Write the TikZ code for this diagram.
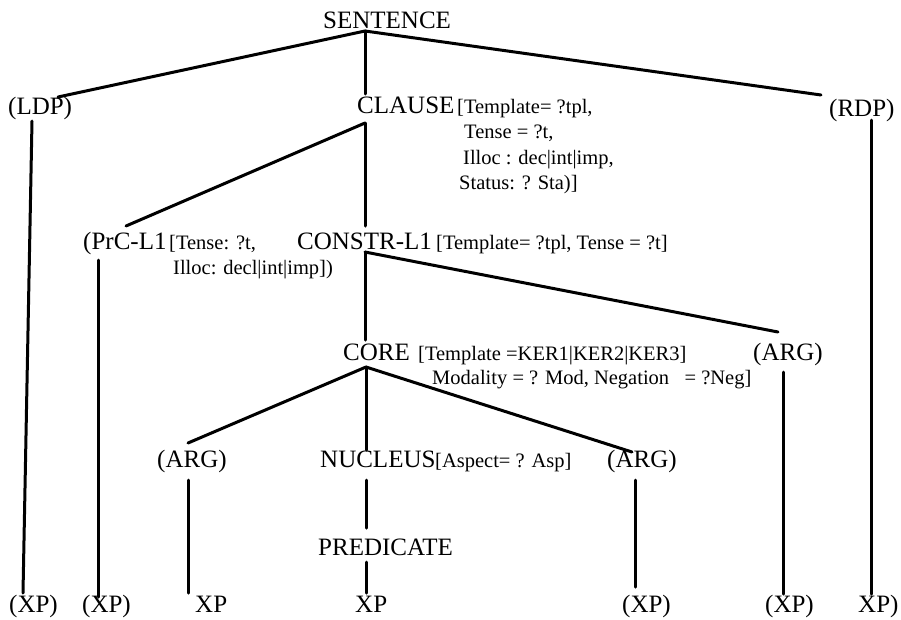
\documentclass[tikz,border=0pt]{standalone}
\usepackage{fontspec}
\setmainfont{Liberation Serif}
\begin{document}
\begin{tikzpicture}[x=1pt,y=-1pt,
  lbl/.style={anchor=base west,inner sep=0pt,font=\fontsize{25}{30}\selectfont},
  feat/.style={anchor=base west,inner sep=0pt,font=\fontsize{20.5}{25}\selectfont},
  branch/.style={line width=3pt,line cap=round,black}]
\useasboundingbox (0,0) rectangle (901,619);

% ---- category labels ----
\node[lbl] (sentence) at (323,28) {SENTENCE};
\node[lbl] (ldp) at (8,114) {(LDP)};
\node[lbl] (rdp) at (829,116) {(RDP)};
\node[lbl] (clause) at (357,113) {CLAUSE};
\node[lbl] (prc) at (83,249) {(PrC-L1};
\node[lbl] (constr) at (297,249) {CONSTR-L1};
\node[lbl] (core) at (343,360) {CORE};
\node[lbl] (argR) at (753,360) {(ARG)};
\node[lbl] (argL) at (157,467) {(ARG)};
\node[lbl] (nucleus) at (320,467) {NUCLEUS};
\node[lbl] (argM) at (607,467) {(ARG)};
\node[lbl] (predicate) at (318,555) {PREDICATE};
\node[lbl] (xp1) at (9,612) {(XP)};
\node[lbl] (xp2) at (82,612) {(XP)};
\node[lbl] (xp3) at (195,612) {XP};
\node[lbl] (xp4) at (355,612) {XP};
\node[lbl] (xp5) at (622,612) {(XP)};
\node[lbl] (xp6) at (765,612) {(XP)};
\node[lbl] (xp7) at (858,612) {XP)};

% ---- feature annotations ----
\node[feat] (clauseF1) at (457,113) {[Template= ?tpl,};
\node[feat] (clauseF2) at (464,138) {Tense = ?t,};
\node[feat] (clauseF3) at (463,164) {Illoc : dec|int|imp,};
\node[feat] (clauseF4) at (459,189) {Status: ? Sta)]};
\node[feat] (prcF1) at (169,249) {[Tense: ?t,};
\node[feat] (prcF2) at (173,274) {Illoc: decl|int|imp])};
\node[feat] (constrF) at (436,249) {[Template= ?tpl, Tense = ?t]};
\node[feat] (coreF1) at (418,360) {[Template =KER1|KER2|KER3]};
\node[feat] (coreF2) at (432,384) {Modality = ? Mod, Negation\ \ \ = ?Neg]};
\node[feat] (nucleusF) at (435,467) {[Aspect= ? Asp]};

% ---- branching points and branch ends ----
\coordinate (sentence-j) at (365,31);
\coordinate (ldp-t) at (58,97);
\coordinate (rdp-t) at (821,95);
\coordinate (clause-t) at (365,94);
\coordinate (clause-j) at (365,123);
\coordinate (ldp-b) at (32,121);
\coordinate (rdp-b) at (871,120);
\coordinate (prc-t) at (126,226);
\coordinate (constr-t) at (365,226);
\coordinate (prc-b) at (98,260);
\coordinate (constr-j) at (365,252);
\coordinate (core-t) at (365,340);
\coordinate (argR-t) at (778,332);
\coordinate (argR-b) at (783,372);
\coordinate (core-j) at (366,367);
\coordinate (argL-t) at (188,443);
\coordinate (nucleus-t) at (366,450);
\coordinate (argM-t) at (632,452);
\coordinate (argL-b) at (188,480);
\coordinate (nucleus-b) at (366,480);
\coordinate (argM-b) at (635,480);
\coordinate (predicate-t) at (366,528);
\coordinate (predicate-b) at (366,562);
\coordinate (xp1-t) at (23,593);
\coordinate (xp2-t) at (98,597);
\coordinate (xp3-t) at (188,593);
\coordinate (xp4-t) at (366,593);
\coordinate (xp5-t) at (635,587);
\coordinate (xp6-t) at (783,594);
\coordinate (xp7-t) at (871,594);

% ---- branches ----
\draw[branch] (sentence-j) -- (ldp-t);
\draw[branch] (sentence-j) -- (clause-t);
\draw[branch] (sentence-j) -- (rdp-t);
\draw[branch] (ldp-b) -- (xp1-t);
\draw[branch] (rdp-b) -- (xp7-t);
\draw[branch] (clause-j) -- (prc-t);
\draw[branch] (clause-j) -- (constr-t);
\draw[branch] (prc-b) -- (xp2-t);
\draw[branch] (constr-j) -- (core-t);
\draw[branch] (constr-j) -- (argR-t);
\draw[branch] (argR-b) -- (xp6-t);
\draw[branch] (core-j) -- (argL-t);
\draw[branch] (core-j) -- (nucleus-t);
\draw[branch] (core-j) -- (argM-t);
\draw[branch] (argL-b) -- (xp3-t);
\draw[branch] (nucleus-b) -- (predicate-t);
\draw[branch] (predicate-b) -- (xp4-t);
\draw[branch] (argM-b) -- (xp5-t);
\end{tikzpicture}
\end{document}
